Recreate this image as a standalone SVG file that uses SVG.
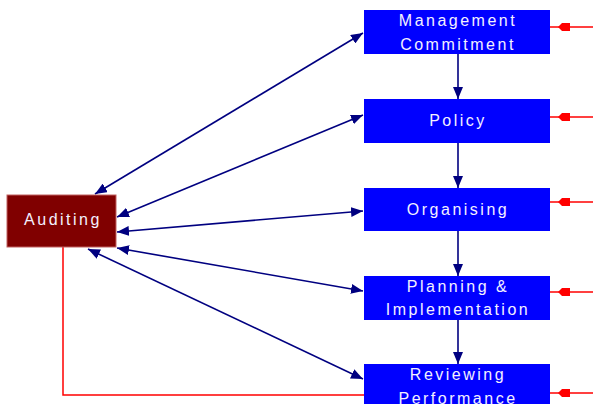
<svg xmlns="http://www.w3.org/2000/svg" width="593" height="404" viewBox="0 0 593 404">
<style>
.box{fill:#0000ff;}
.lbl{font-family:"Liberation Sans",Arial,sans-serif;font-size:16px;fill:#f4f0ff;text-anchor:middle;letter-spacing:2.5px;}
.nav{stroke:#000080;stroke-width:1.6;fill:none;}
.red{stroke:#ff0000;stroke-width:1.5;fill:none;}
</style>
<defs>
<marker id="ah" viewBox="0 0 12 10" refX="12" refY="5" markerWidth="12" markerHeight="10" markerUnits="userSpaceOnUse" orient="auto-start-reverse">
<path d="M0,0 L12,5 L0,10 Z" fill="#000080"/>
</marker>
<marker id="rh" viewBox="0 0 12 9" refX="0" refY="4.5" markerWidth="12" markerHeight="9" markerUnits="userSpaceOnUse" orient="auto">
<path d="M0,4.5 L4,1 L12,1 L12,8 L4,8 Z" fill="#ff0000"/>
</marker>
</defs>
<g id="connectors">
<line class="nav" x1="95" y1="194" x2="363" y2="33" marker-start="url(#ah)" marker-end="url(#ah)"/>
<line class="nav" x1="117" y1="217" x2="363" y2="115" marker-start="url(#ah)" marker-end="url(#ah)"/>
<line class="nav" x1="117" y1="232" x2="363" y2="211" marker-start="url(#ah)" marker-end="url(#ah)"/>
<line class="nav" x1="117" y1="248" x2="363" y2="291" marker-start="url(#ah)" marker-end="url(#ah)"/>
<line class="nav" x1="88" y1="249" x2="363" y2="379" marker-start="url(#ah)" marker-end="url(#ah)"/>
<line class="nav" x1="458" y1="54" x2="458" y2="99" marker-end="url(#ah)"/>
<line class="nav" x1="458" y1="143" x2="458" y2="188" marker-end="url(#ah)"/>
<line class="nav" x1="458" y1="231" x2="458" y2="276" marker-end="url(#ah)"/>
<line class="nav" x1="458" y1="320" x2="458" y2="364" marker-end="url(#ah)"/>
<polyline class="red" points="63,247 63,395 364,395"/>
<line class="red" x1="593" y1="27" x2="550" y2="27"/>
<line class="red" x1="593" y1="117" x2="550" y2="117"/>
<line class="red" x1="593" y1="202" x2="550" y2="202"/>
<line class="red" x1="593" y1="292" x2="550" y2="292"/>
<line class="red" x1="593" y1="393" x2="550" y2="393"/>
<path d="M558,27 L562,23 L570,23 L570,31 L562,31 Z" fill="#ff0000"/>
<path d="M558,117 L562,113 L570,113 L570,121 L562,121 Z" fill="#ff0000"/>
<path d="M558,202 L562,198 L570,198 L570,206 L562,206 Z" fill="#ff0000"/>
<path d="M558,292 L562,288 L570,288 L570,296 L562,296 Z" fill="#ff0000"/>
<path d="M558,393 L562,389 L570,389 L570,397 L562,397 Z" fill="#ff0000"/>
</g>
<g id="auditing">
<rect x="7" y="195" width="109" height="52" fill="#800000" stroke="#c06060" stroke-width="1"/>
<text class="lbl" x="63" y="225">Auditing</text>
</g>
<g id="management">
<rect class="box" x="364" y="10" width="186" height="44"/>
<text class="lbl" x="458" y="26">Management</text>
<text class="lbl" x="458" y="50">Commitment</text>
</g>
<g id="policy">
<rect class="box" x="364" y="99" width="186" height="44"/>
<text class="lbl" x="458" y="126">Policy</text>
</g>
<g id="organising">
<rect class="box" x="364" y="188" width="186" height="43"/>
<text class="lbl" x="458" y="215">Organising</text>
</g>
<g id="planning">
<rect class="box" x="364" y="276" width="186" height="44"/>
<text class="lbl" x="458" y="292">Planning &amp;</text>
<text class="lbl" x="458" y="315">Implementation</text>
</g>
<g id="reviewing">
<rect class="box" x="364" y="364" width="186" height="44"/>
<text class="lbl" x="458" y="380">Reviewing</text>
<text class="lbl" x="458" y="404">Performance</text>
</g>
</svg>
